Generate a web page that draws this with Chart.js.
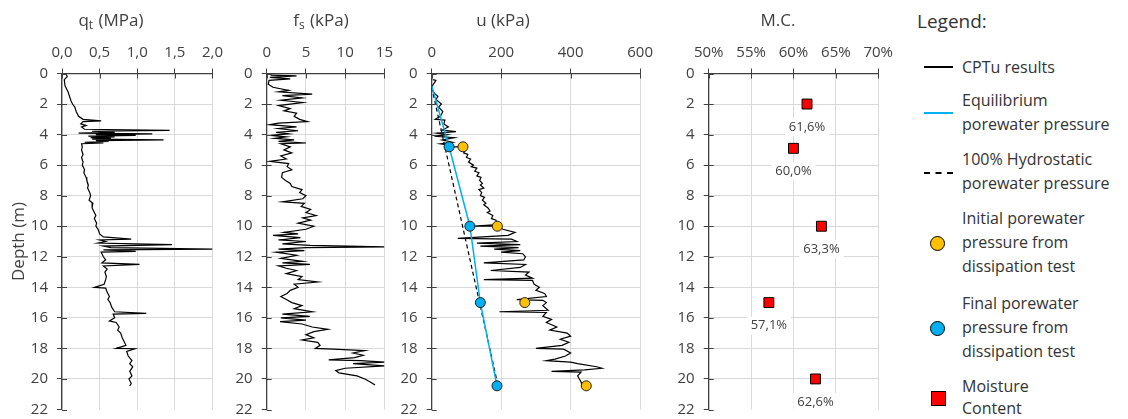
<!DOCTYPE html>
<html>
<head>
<meta charset="utf-8">
<title>CPTu profile</title>
<script src="https://cdn.jsdelivr.net/npm/chart.js@4.4.1/dist/chart.umd.min.js"></script>
<style>
  body { margin: 0; background: #fff; }
  #wrap { position: relative; width: 1128px; height: 419px; overflow: hidden; font-family: "Open Sans", sans-serif; }
  #wrap canvas { position: absolute; top: 0; }
  .lg { position: absolute; left: 962px; font-size: 16px; line-height: 24px; color: #333; white-space: nowrap; }
  .sym { position: absolute; }
</style>
</head>
<body>
<div id="wrap">
  <canvas id="qtChart" width="230" height="430" style="left:0px"></canvas>
  <canvas id="fsChart" width="175" height="430" style="left:225px"></canvas>
  <canvas id="uChart" width="265" height="430" style="left:395px"></canvas>
  <canvas id="mcChart" width="230" height="430" style="left:670px"></canvas>

  <div class="lg" style="left:917px; top:6px; font-size:19px; line-height:30px;">Legend:</div>

  <div class="sym" style="left:924px; top:66px; width:29px; height:2px; background:#000;"></div>
  <div class="lg" style="top:55px;">CPTu results</div>

  <div class="sym" style="left:924px; top:112px; width:29px; height:2px; background:#00B0F0;"></div>
  <div class="lg" style="top:88px;">Equilibrium<br>porewater pressure</div>

  <div class="sym" style="left:924px; top:172px; width:29px; height:0; border-top:2px dashed #000;"></div>
  <div class="lg" style="top:147px;">100% Hydrostatic<br>porewater pressure</div>

  <div class="sym" style="left:930px; top:236px; width:13px; height:13px; border-radius:50%; background:#FFC000; border:1px solid #000;"></div>
  <div class="lg" style="top:206px;">Initial porewater<br>pressure from<br>dissipation test</div>

  <div class="sym" style="left:930px; top:321px; width:13px; height:13px; border-radius:50%; background:#00B0F0; border:1px solid #000;"></div>
  <div class="lg" style="top:291px;">Final porewater<br>pressure from<br>dissipation test</div>

  <div class="sym" style="left:931px; top:391px; width:13px; height:13px; background:#FF0000; border:1px solid #000;"></div>
  <div class="lg" style="top:375px; line-height:22px;">Moisture<br>Content</div>
</div>

<script>
// ---- data (depth in m) ----

// cone resistance qt (MPa)
const qtDepth = [0.0, 0.2, 0.4, 0.8, 1.0, 1.2, 1.5, 1.8, 2.0, 2.2, 2.5, 2.8, 3.0, 3.1, 3.15, 3.3, 3.4, 3.5, 3.65,
  3.72, 3.78, 3.85, 3.9, 3.95, 4.0, 4.05, 4.1, 4.15, 4.2, 4.25, 4.3, 4.35, 4.4, 4.45, 4.5, 4.55, 4.6, 4.8, 5.0,
  5.3, 5.5, 5.8, 6.0, 6.3, 6.5, 6.8, 7.0, 7.3, 7.5, 7.8, 8.0, 8.3, 8.5, 8.8, 9.0, 9.3, 9.5, 9.8, 10.0, 10.2, 10.5,
  10.7, 10.85, 10.9, 11.0, 11.1, 11.2, 11.3, 11.4, 11.5, 11.55, 11.65, 11.7, 12.0, 12.2, 12.4, 12.5, 12.6, 12.8,
  13.0, 13.3, 13.5, 13.8, 14.0, 14.05, 14.3, 14.6, 14.8, 15.0, 15.3, 15.6, 15.7, 15.75, 16.0, 16.2, 16.3, 16.6,
  16.8, 17.0, 17.3, 17.5, 17.8, 18.0, 18.02, 18.2, 18.5, 18.8, 19.0, 19.2, 19.5, 19.8, 20.0, 20.3, 20.45];
const qtValue = [0.05, 0.07, 0.03, 0.04, 0.06, 0.08, 0.10, 0.12, 0.14, 0.17, 0.19, 0.22, 0.28, 0.52, 0.28, 0.25, 0.32, 0.26, 0.30,
  1.43, 0.40, 0.70, 0.22, 1.20, 0.45, 0.98, 0.35, 0.70, 0.38, 0.65, 0.40, 1.35, 0.45, 0.62, 0.30, 0.55, 0.26, 0.27, 0.26,
  0.28, 0.26, 0.28, 0.27, 0.30, 0.29, 0.32, 0.33, 0.35, 0.34, 0.37, 0.38, 0.36, 0.41, 0.40, 0.42, 0.45, 0.43, 0.46, 0.45, 0.48, 0.50,
  0.55, 0.92, 0.50, 0.58, 0.48, 1.46, 0.55, 0.65, 2.00, 0.55, 0.98, 0.52, 0.55, 0.58, 0.53, 1.03, 0.55, 0.60,
  0.57, 0.59, 0.58, 0.56, 0.43, 0.58, 0.60, 0.63, 0.61, 0.64, 0.66, 0.70, 1.12, 0.68, 0.70, 0.63, 0.72, 0.76,
  0.74, 0.78, 0.80, 0.82, 0.85, 0.72, 0.97, 0.86, 0.88, 0.93, 0.90, 0.94, 0.90, 0.93, 0.89, 0.92, 0.90];

// sleeve friction fs (kPa)
const fsDepth = [0.1, 0.15, 0.25, 0.35, 0.45, 0.7, 0.9, 1.1, 1.2, 1.35, 1.45, 1.6, 1.75, 1.9, 2.1, 2.3, 2.45, 2.6, 2.8,
  3.0, 3.15, 3.25, 3.35, 3.5, 3.6, 3.75, 3.85, 3.95, 4.05, 4.15, 4.25, 4.35, 4.45, 4.55, 4.6, 4.8, 5.0, 5.2, 5.4,
  5.6, 5.75, 5.9, 6.1, 6.3, 6.5, 6.8, 7.0, 7.2, 7.4, 7.6, 7.8, 8.0, 8.2, 8.4, 8.5, 8.7, 8.9, 9.1, 9.3, 9.45, 9.6,
  9.8, 10.0, 10.2, 10.4, 10.5, 10.6, 10.75, 10.9, 11.0, 11.15, 11.25, 11.35, 11.4, 11.5, 11.6, 11.7, 11.9, 12.1,
  12.3, 12.4, 12.5, 12.6, 12.75, 12.9, 13.1, 13.3, 13.5, 13.65, 13.8, 14.0, 14.2, 14.4, 14.6, 14.8, 15.0, 15.2,
  15.4, 15.6, 15.75, 15.9, 16.0, 16.15, 16.25, 16.4, 16.6, 16.75, 16.9, 17.1, 17.3, 17.45, 17.6, 17.8, 18.0,
  18.05, 18.15, 18.3, 18.45, 18.6, 18.75, 18.8, 18.9, 19.0, 19.15, 19.3, 19.45, 19.6, 19.8, 20.0, 20.2, 20.4];
const fsValue = [0.5, 3.8, 0.4, 3.0, 0.3, 0.2, 0.8, 2.8, 1.5, 5.8, 2.0, 4.5, 1.8, 4.6, 1.5, 3.0, 2.2, 3.8, 3.5,
  4.2, 5.2, 1.5, 0.4, 3.8, 1.5, 4.0, 1.2, 2.8, 0.5, 2.5, 1.0, 3.5, 1.5, 5.0, 1.8, 3.0, 2.2, 3.2, 1.8,
  2.5, 0.4, 2.8, 2.6, 3.2, 2.0, 1.9, 2.4, 3.0, 3.2, 4.5, 4.2, 5.0, 4.6, 2.0, 4.8, 4.4, 5.6, 5.0, 6.3, 4.6, 5.6,
  4.0, 6.0, 5.0, 2.2, 4.0, 0.8, 4.3, 1.5, 5.0, 2.0, 5.5, 15.0, 5.0, 1.5, 4.8, 1.2, 3.8, 1.8,
  4.6, 2.0, 5.5, 1.5, 2.5, 3.8, 2.5, 4.5, 4.0, 6.5, 3.5, 4.0, 3.0, 2.6, 1.8, 2.5, 3.2, 4.5,
  3.5, 5.8, 2.0, 5.5, 1.8, 5.0, 1.7, 4.5, 5.8, 7.8, 6.0, 5.0, 6.0, 4.5, 6.5, 6.8, 6.2,
  8.5, 12.5, 11.0, 12.3, 11.2, 7.9, 12.0, 15.0, 11.0, 15.0, 10.0, 8.8, 9.2, 11.5, 12.5, 13.2, 13.8];

// pore pressure u (kPa)
const uDepth = [0.4, 0.45, 0.6, 0.8, 1.0, 1.3, 1.5, 1.7, 2.0, 2.2, 2.5, 2.8, 3.0, 3.05, 3.3, 3.5, 3.7, 3.8, 3.9,
  4.0, 4.1, 4.2, 4.35, 4.5, 4.6, 4.7, 4.8, 4.8, 4.9, 5.0, 5.2, 5.3, 5.5, 5.6, 5.8, 6.0, 6.1, 6.2, 6.4, 6.5, 6.7,
  6.8, 7.0, 7.2, 7.3, 7.5, 7.6, 7.8, 8.0, 8.1, 8.3, 8.5, 8.6, 8.8, 9.0, 9.1, 9.3, 9.5, 9.6, 9.9, 10.0, 10.0,
  10.2, 10.4, 10.6, 10.8, 10.85, 11.0, 11.1, 11.2, 11.3, 11.4, 11.5, 11.6, 11.7, 11.8, 12.0, 12.2, 12.4, 12.5,
  12.7, 12.9, 13.0, 13.2, 13.4, 13.5, 13.55, 13.8, 14.0, 14.2, 14.4, 14.6, 14.8, 14.85, 15.0, 15.2, 15.5, 15.6,
  15.65, 15.9, 16.1, 16.3, 16.6, 16.8, 17.0, 17.2, 17.4, 17.6, 17.8, 18.0, 18.05, 18.3, 18.5, 18.7, 18.8, 18.9,
  19.0, 19.2, 19.3, 19.4, 19.5, 19.55, 19.8, 20.0, 20.2, 20.35];
const uValue = [3, 12, 8, 2, 0, 8, 18, 12, 28, 20, 32, 25, 10, 38, 35, 48, 30, 70, 15,
  45, 8, 65, 30, 60, 25, 55, 50, 90, 95, 98, 92, 104, 100, 112, 106, 120, 114, 130, 124, 136, 130,
  142, 138, 146, 140, 150, 136, 144, 140, 152, 146, 156, 150, 162, 168, 160, 176, 172, 185, 190, 110, 190,
  205, 240, 220, 75, 230, 245, 130, 255, 140, 250, 180, 255, 200, 262, 270, 265, 150, 270,
  255, 170, 280, 270, 290, 150, 290, 295, 310, 300, 325, 330, 245, 320, 330, 320, 335, 195,
  330, 320, 345, 330, 360, 340, 390, 400, 370, 395, 375, 300, 380, 400, 385, 355, 330, 400,
  420, 475, 490, 440, 345, 430, 420, 425, 430, 432];

// equilibrium porewater pressure (kPa)
const eqDepth = [0.8, 4.8, 10.0, 15.0, 20.45];
const eqValue = [0, 50, 110, 140, 188];

// 100% hydrostatic porewater pressure (kPa)
const hydDepth = [0.9, 20.35];
const hydValue = [0, 190];

// dissipation tests
const dissDepth = [4.8, 10.0, 15.0, 20.45];
const dissInitial = [90, 189, 268, 445];
const dissFinal = [50, 110, 140, 188];

// moisture content (%)
const mcDepth = [2.0, 4.9, 10.0, 15.0, 20.0];
const mcValue = [61.6, 60.0, 63.3, 57.1, 62.6];

const FONT = '"Open Sans", sans-serif';
const TICK_COLOR = '#404040';
const AXIS_COLOR = '#404040';
const GRID_COLOR = '#d9d9d9';

function toPoints(depths, values) {
    return depths.map((d, i) => ({ x: values[i], y: d }));
}

function comma(v, digits) {
    return v.toFixed(digits).replace('.', ',');
}

/**
 * Title above a panel, with an optional subscript
 */
const panelTitle = {
    id: 'panelTitle',
    afterDraw(chart, args, opts) {
        const ctx = chart.ctx;
        const big = '17px ' + FONT;
        const small = '12px ' + FONT;
        ctx.save();
        ctx.fillStyle = AXIS_COLOR;
        ctx.textBaseline = 'middle';
        ctx.textAlign = 'left';
        ctx.font = big;
        const w1 = ctx.measureText(opts.main).width;
        const w3 = ctx.measureText(opts.rest).width;
        ctx.font = small;
        const w2 = opts.sub ? ctx.measureText(opts.sub).width + 1 : 0;
        let x = opts.cx - (w1 + w2 + w3) / 2;
        ctx.font = big;
        ctx.fillText(opts.main, x, 21);
        x += w1;
        if (opts.sub) {
            ctx.font = small;
            ctx.fillText(opts.sub, x, 26);
            x += w2;
        }
        ctx.font = big;
        ctx.fillText(opts.rest, x, 21);
        ctx.restore();
    }
};

/**
 * Small tick marks on the inner side of both axes
 */
const innerTicks = {
    id: 'innerTicks',
    afterDatasetsDraw(chart) {
        const ctx = chart.ctx;
        const area = chart.chartArea;
        const xs = chart.scales.x;
        const ys = chart.scales.y;
        ctx.save();
        ctx.strokeStyle = AXIS_COLOR;
        ctx.lineWidth = 1;
        ctx.beginPath();
        xs.ticks.forEach(t => {
            const px = Math.round(xs.getPixelForValue(t.value)) + 0.5;
            ctx.moveTo(px, area.top);
            ctx.lineTo(px, area.top + 5);
        });
        ys.ticks.forEach(t => {
            const py = Math.round(ys.getPixelForValue(t.value)) + 0.5;
            ctx.moveTo(area.left, py);
            ctx.lineTo(area.left + 5, py);
        });
        ctx.stroke();
        ctx.restore();
    }
};

/**
 * Value labels under the moisture content points
 */
const mcLabels = {
    id: 'mcLabels',
    afterDatasetsDraw(chart) {
        const ctx = chart.ctx;
        const meta = chart.getDatasetMeta(0);
        ctx.save();
        ctx.font = '13px ' + FONT;
        ctx.textAlign = 'center';
        ctx.textBaseline = 'middle';
        meta.data.forEach((pt, i) => {
            const txt = comma(mcValue[i], 1) + '%';
            const w = ctx.measureText(txt).width;
            ctx.fillStyle = '#fff';
            ctx.fillRect(pt.x - w / 2 - 4, pt.y + 14, w + 8, 18);
            ctx.fillStyle = AXIS_COLOR;
            ctx.fillText(txt, pt.x, pt.y + 23);
        });
        ctx.restore();
    }
};

function depthScale(width, showTitle) {
    return {
        type: 'linear',
        reverse: true,
        min: 0,
        max: 22,
        afterFit: s => { s.width = width; },
        ticks: { stepSize: 2, color: TICK_COLOR, font: { family: FONT, size: 15 }, padding: 9 },
        grid: {
            color: c => (c.tick && c.tick.value === 22) ? 'rgba(0,0,0,0)' : GRID_COLOR,
            tickColor: AXIS_COLOR,
            tickLength: 5
        },
        border: { color: AXIS_COLOR, width: 1.3 },
        title: {
            display: showTitle,
            text: 'Depth (m)',
            color: AXIS_COLOR,
            font: { family: FONT, size: 17 },
            padding: { top: 9, bottom: 0 }
        }
    };
}

function valueScale(min, max, step, fmt) {
    return {
        type: 'linear',
        position: 'top',
        min: min,
        max: max,
        afterFit: s => { s.height = 73.5; },
        ticks: {
            stepSize: step,
            callback: fmt,
            color: TICK_COLOR,
            font: { family: FONT, size: 15 },
            padding: 7,
            maxRotation: 0,
            autoSkip: false
        },
        grid: { color: GRID_COLOR, tickColor: AXIS_COLOR, tickLength: 5 },
        border: { color: AXIS_COLOR, width: 1.3 }
    };
}

function makePanel(id, datasets, xScale, yScale, rightPad, title, extraPlugins) {
    const ctx = document.getElementById(id).getContext('2d');
    return new Chart(ctx, {
        type: 'scatter',
        data: { datasets: datasets },
        options: {
            responsive: false,
            animation: false,
            // canvas is 430 high, the plot bottom sits at y = 409.5
            layout: { padding: { left: 0, right: rightPad, top: 0, bottom: 20.5 } },
            scales: { x: xScale, y: yScale },
            plugins: {
                legend: { display: false },
                tooltip: { enabled: false },
                panelTitle: title
            }
        },
        plugins: [panelTitle, innerTicks].concat(extraPlugins || [])
    });
}

function traceDataset(points) {
    return {
        data: points,
        showLine: true,
        borderColor: '#000',
        borderWidth: 1.2,
        pointRadius: 0,
        tension: 0
    };
}

// qt panel
makePanel('qtChart',
    [traceDataset(toPoints(qtDepth, qtValue))],
    valueScale(0, 2, 0.5, v => comma(v, 1)),
    depthScale(62, true),
    16,
    { main: 'q', sub: 't', rest: ' (MPa)', cx: 111 });

// fs panel
makePanel('fsChart',
    [traceDataset(toPoints(fsDepth, fsValue))],
    valueScale(0, 15, 5, v => String(v)),
    depthScale(41.7, false),
    15.3,
    { main: 'f', sub: 's', rest: ' (kPa)', cx: 96 });

// u panel
makePanel('uChart',
    [
        {
            data: toPoints(dissDepth, dissFinal),
            showLine: false,
            pointRadius: 5,
            pointBackgroundColor: '#00B0F0',
            pointBorderColor: '#1f1f1f',
            pointBorderWidth: 1
        },
        {
            data: toPoints(dissDepth, dissInitial),
            showLine: false,
            pointRadius: 5,
            pointBackgroundColor: '#FFC000',
            pointBorderColor: '#1f1f1f',
            pointBorderWidth: 1
        },
        {
            data: toPoints(eqDepth, eqValue),
            showLine: true,
            borderColor: '#00B0F0',
            borderWidth: 1.5,
            pointRadius: 0
        },
        {
            data: toPoints(hydDepth, hydValue),
            showLine: true,
            borderColor: '#000',
            borderWidth: 1.2,
            borderDash: [4, 3],
            pointRadius: 0
        },
        traceDataset(toPoints(uDepth, uValue))
    ],
    valueScale(0, 600, 200, v => String(v)),
    depthScale(36.7, false),
    19.5,
    { main: 'u', sub: '', rest: ' (kPa)', cx: 108 });

// moisture content panel
makePanel('mcChart',
    [{
        data: toPoints(mcDepth, mcValue),
        showLine: false,
        pointStyle: 'rect',
        pointRadius: 7,
        pointBackgroundColor: '#FF0000',
        pointBorderColor: '#000',
        pointBorderWidth: 1
    }],
    valueScale(50, 70, 5, v => Math.round(v) + '%'),
    depthScale(38.7, false),
    20,
    { main: 'M.C.', sub: '', rest: '', cx: 108 },
    [mcLabels]);
</script>
</body>
</html>
